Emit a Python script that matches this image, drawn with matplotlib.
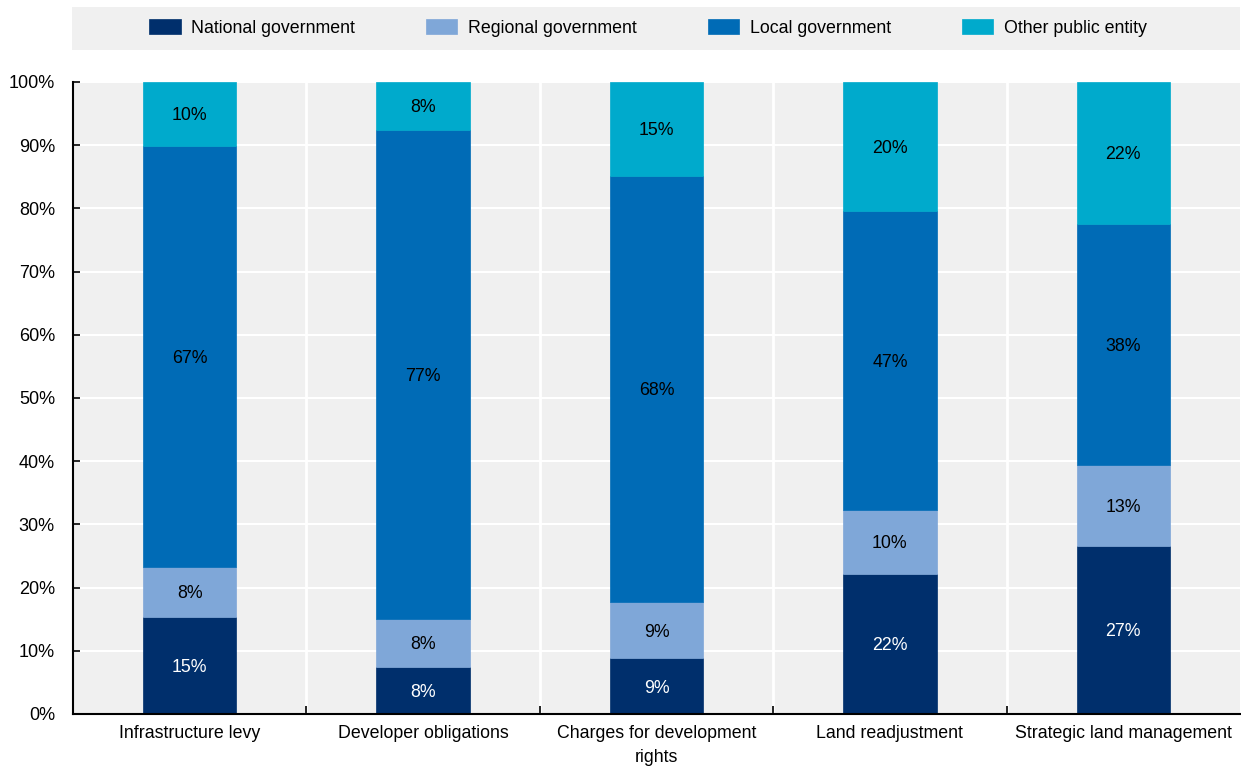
import matplotlib.pyplot as plt
from matplotlib.patches import Rectangle

plt.rcParams['font.family'] = ['Liberation Sans Narrow', 'Liberation Sans', 'DejaVu Sans']

categories = ["Infrastructure levy", "Developer obligations", "Charges for development\nrights",
              "Land readjustment", "Strategic land management"]
series_names = ["National government", "Regional government", "Local government", "Other public entity"]
national = [15.4, 7.5, 8.8, 22.2, 26.6]
regional = [7.9, 7.6, 8.9, 10.0, 12.8]
local = [66.6, 77.3, 67.5, 47.4, 38.2]
other = [10.1, 7.6, 14.8, 20.4, 22.4]
colors = ["#002f6c", "#7fa7d8", "#006bb6", "#00aacc"]
text_colors = ["white", "black", "black", "black"]

fig = plt.figure(figsize=(12.41, 7.69), dpi=100)
ax = fig.add_axes([73 / 1241, 55 / 769, 1167 / 1241, 632 / 769])
ax.set_facecolor("#f0f0f0")

x = range(len(categories))
bottoms = [0] * len(categories)
bars = []
for name, vals, col, tcol in zip(series_names, [national, regional, local, other], colors, text_colors):
    b = ax.bar(x, vals, bottom=bottoms, width=0.4, color=col, edgecolor=col, linewidth=0.5,
               label=name, zorder=3)
    bars.append(b)
    for i, v in enumerate(vals):
        ax.text(i, bottoms[i] + v / 2 - 0.3, f"{int(v + 0.5)}%", ha="center", va="center",
                color=tcol, fontsize=12.8, zorder=4)
    bottoms = [bt + v for bt, v in zip(bottoms, vals)]

ax.set_xlim(-0.5, len(categories) - 0.5)
ax.set_ylim(0, 100)
ax.set_yticks(range(0, 101, 10))
ax.set_yticklabels([f"{t}%" for t in range(0, 101, 10)], fontsize=13)
ax.set_xticks(list(x))
ax.set_xticklabels(categories, fontsize=12.8, linespacing=1.55)
ax.set_xticks([i + 0.5 for i in range(len(categories) - 1)], minor=True)
ax.tick_params(axis="x", which="major", length=0, pad=8)
ax.tick_params(axis="x", which="minor", direction="in", length=6, width=1.2)
ax.tick_params(axis="y", direction="in", length=5, width=1.2, pad=13)

ax.grid(axis="y", color="white", linewidth=1.5, zorder=1)
for s in ax.get_xticks(minor=True):
    ax.axvline(s, color="white", linewidth=2, zorder=1)
for side in ["top", "right"]:
    ax.spines[side].set_visible(False)
for side in ["left", "bottom"]:
    ax.spines[side].set_linewidth(1.5)
    ax.spines[side].set_zorder(5)

# legend strip across the top
fig.patches.append(Rectangle((72 / 1241, 1 - 50 / 769), 1168 / 1241, 43 / 769,
                             transform=fig.transFigure, facecolor="#f0f0f0",
                             edgecolor="none", zorder=0))
fig.legend(handles=bars, labels=series_names, loc="center", ncol=4,
           bbox_to_anchor=(648 / 1241, 1 - 28 / 769), frameon=False, fontsize=12.8,
           handlelength=1.75, handleheight=0.9, handletextpad=0.6, columnspacing=4.0)

fig.savefig("out.png", dpi=100)
